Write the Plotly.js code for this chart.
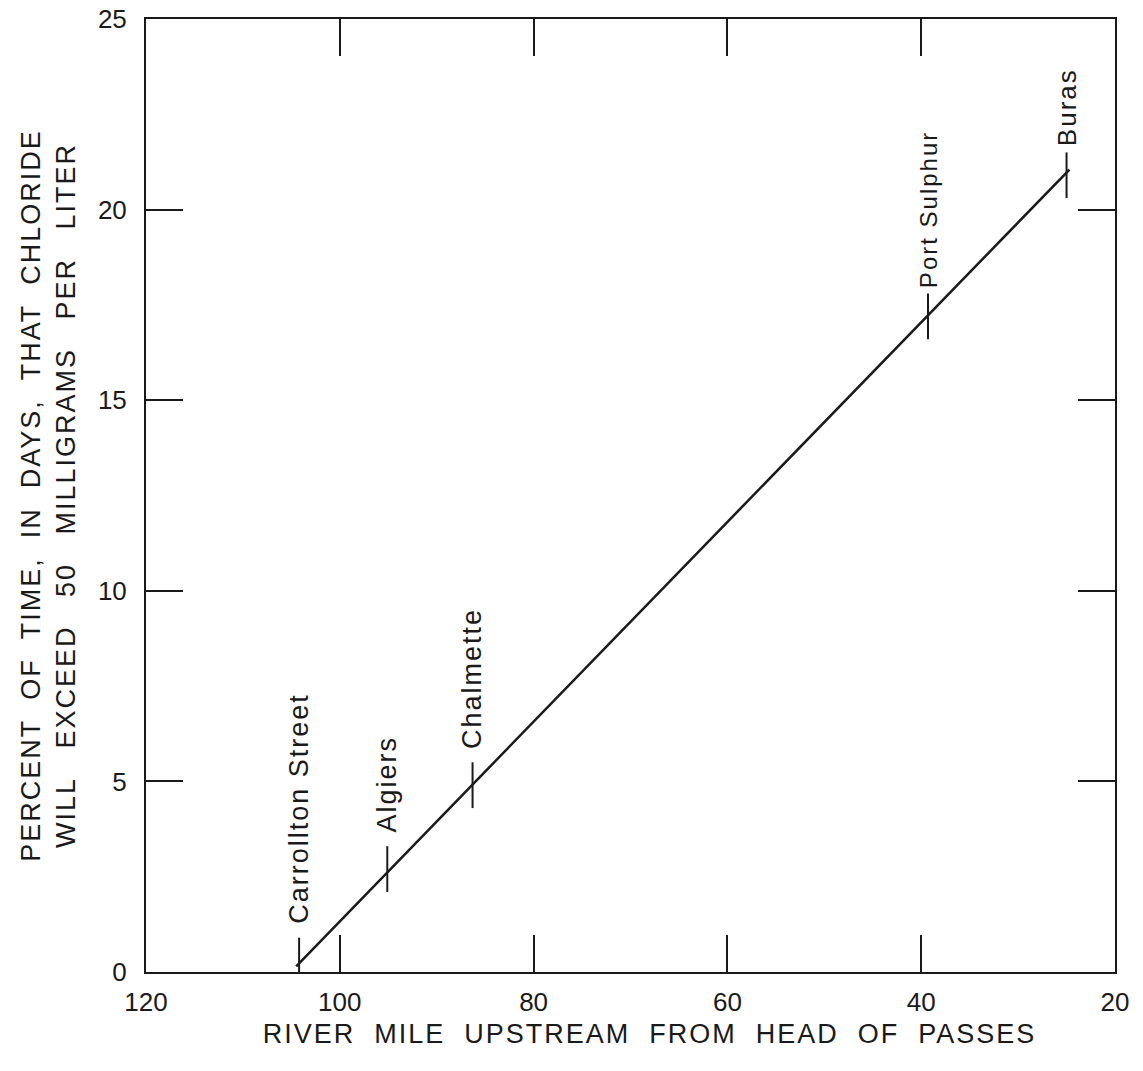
<!DOCTYPE html>
<html>
<head>
<meta charset="utf-8">
<script src="https://cdn.plot.ly/plotly-3.0.1.min.js"></script>
<style>
html,body{margin:0;padding:0;background:#fff;}
#chart{width:1143px;height:1071px;}
.annotation-text, .xtitle, .ytitle { letter-spacing: 2px; }
</style>
</head>
<body>
<div id="chart"></div>
<script>
// Station data (river mile upstream from Head of Passes, percent of time)
var stationNames = ['Carrollton Street', 'Algiers', 'Chalmette', 'Port Sulphur', 'Buras'];
var stationMiles = [104.2, 95.1, 86.3, 39.3, 25.0];
var stationPct = [0.3, 2.7, 4.9, 17.2, 20.9];

// Fitted line end points
var lineMiles = [104.5, 24.7];
var linePct = [0.15, 21.05];

// Axis ticks
var xTicks = [120, 100, 80, 60, 40, 20];
var yTicks = [0, 5, 10, 15, 20, 25];

var FONT = 'Liberation Sans, Arial, sans-serif';
var INK = '#1a1a1a';

var traces = [
  {
    x: lineMiles, y: linePct, type: 'scatter', mode: 'lines',
    line: {color: INK, width: 2.5}, hoverinfo: 'skip', showlegend: false
  },
  {
    x: stationMiles, y: stationPct, type: 'scatter', mode: 'markers',
    marker: {size: 1, color: 'rgba(0,0,0,0)'},
    error_y: {type: 'constant', value: 0.6, width: 0, thickness: 2, color: INK},
    text: stationNames, hoverinfo: 'text', showlegend: false
  }
];

// gap (in y units) between each station tick and its label
var labelGap = [0.9, 0.9, 0.9, 0.7, 0.7];
var labelSize = [27, 27, 27, 24, 26];

var annotations = stationNames.map(function (name, i) {
  return {
    x: stationMiles[i], y: stationPct[i] + labelGap[i], xref: 'x', yref: 'y',
    text: name, showarrow: false, textangle: -90,
    xanchor: 'center', yanchor: 'bottom',
    font: {family: FONT, size: labelSize[i], color: INK}
  };
});

var sp2 = '&nbsp;&nbsp;';
var sp3 = '&nbsp;&nbsp;&nbsp;';
var layout = {
  width: 1143, height: 1071,
  margin: {l: 146, r: 28, t: 19, b: 99},
  paper_bgcolor: '#fff', plot_bgcolor: '#fff',
  font: {family: FONT, color: INK},
  xaxis: {
    range: [120, 20], tickvals: xTicks, ticktext: xTicks.map(String),
    ticks: 'inside', ticklen: 37, tickwidth: 2, tickcolor: INK,
    showline: true, linewidth: 2, linecolor: INK, mirror: 'ticks',
    showgrid: false, zeroline: false,
    tickfont: {family: FONT, size: 26, color: INK},
    ticklabelstandoff: 6,
    title: {
      text: '&nbsp;&nbsp;&nbsp;&nbsp;' +
            ['RIVER', 'MILE', 'UPSTREAM', 'FROM', 'HEAD', 'OF', 'PASSES'].join(sp2),
      font: {family: FONT, size: 27, color: INK}, standoff: 8
    },
    automargin: false
  },
  yaxis: {
    range: [0, 25], tickvals: yTicks, ticktext: yTicks.map(String),
    ticks: 'inside', ticklen: 37, tickwidth: 2, tickcolor: INK,
    showline: true, linewidth: 2, linecolor: INK, mirror: 'ticks',
    showgrid: false, zeroline: false,
    tickfont: {family: FONT, size: 26, color: INK},
    ticklabelstandoff: 12,
    title: {
      text: ['PERCENT', 'OF', 'TIME,', 'IN', 'DAYS,', 'THAT', 'CHLORIDE'].join(sp2) + '<br>' +
            ['WILL', 'EXCEED', '50', 'MILLIGRAMS', 'PER', 'LITER'].join(sp3),
      font: {family: FONT, size: 27, color: INK}, standoff: 14
    },
    automargin: false
  },
  annotations: annotations,
  showlegend: false
};

Plotly.newPlot('chart', traces, layout, {displayModeBar: false, staticPlot: true});
</script>
</body>
</html>
